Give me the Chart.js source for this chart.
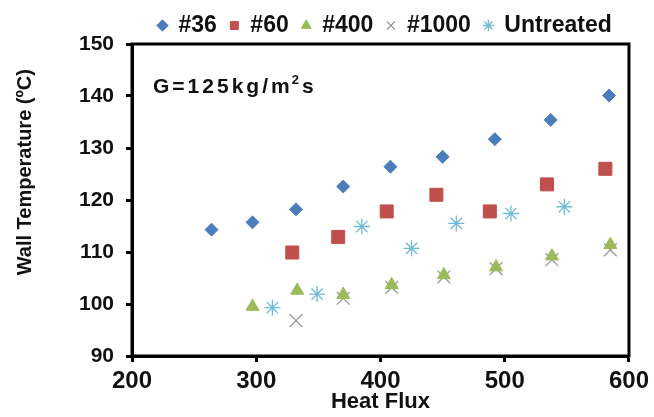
<!DOCTYPE html>
<html>
<head>
<meta charset="utf-8">
<script src="https://cdn.jsdelivr.net/npm/chart.js@4.4.1/dist/chart.umd.min.js"></script>
<style>
html, body { margin: 0; padding: 0; background: #fff; }
</style>
</head>
<body>
<canvas id="chart" width="654" height="417"></canvas>
<script>
// Heat flux (x) and wall temperature (y)
const flux36 = [264, 297, 332, 370, 408, 450, 492, 537, 584];
const temp36 = [114.3, 115.7, 118.2, 122.6, 126.4, 128.3, 131.7, 135.4, 140.1];

const flux60 = [329, 366, 405, 445, 488, 534, 581];
const temp60 = [109.9, 112.9, 117.8, 121.0, 117.8, 123.0, 126.0];

const flux400 = [297, 333, 370, 409, 451, 493, 538, 585];
const temp400 = [99.5, 102.6, 101.8, 103.7, 105.6, 107.1, 109.2, 111.4];

const flux1000 = [332, 370, 409, 451, 493, 538, 585];
const temp1000 = [96.8, 101.1, 103.2, 105.2, 106.8, 108.5, 110.4];

const fluxUntreated = [313, 349, 385, 425, 461, 505, 548];
const tempUntreated = [99.3, 101.9, 114.9, 110.7, 115.5, 117.4, 118.7];

const xTicks = [200, 300, 400, 500, 600];
const yTicks = [90, 100, 110, 120, 130, 140, 150];

function toPoints(xs, ys) {
    return xs.map((x, i) => ({ x: x, y: ys[i] }));
}

const FONT = "'Liberation Sans', Arial, sans-serif";
const LEGEND_PAD = 13;

// Frame around the plot area, legend position and the G= note
const framePlugin = {
    id: 'frame',
    afterLayout(chart) {
        const lg = chart.legend;
        const w = lg.right - lg.left;
        lg.left = 158 - LEGEND_PAD;
        lg.right = lg.left + w;
        lg.top += 3;
    },
    beforeDatasetsDraw(chart) {
        const { ctx, chartArea: a } = chart;
        ctx.save();
        ctx.strokeStyle = '#000';
        ctx.lineWidth = 3;
        ctx.strokeRect(a.left, a.top, a.right - a.left, a.bottom - a.top);

        // note inside the plot
        ctx.fillStyle = '#111';
        ctx.textBaseline = 'alphabetic';
        ctx.letterSpacing = '3px';
        ctx.font = 'bold 21px ' + FONT;
        let x = 153, y = 93;
        const main = 'G=125kg/m';
        ctx.fillText(main, x, y);
        x += ctx.measureText(main).width - 1;
        ctx.font = 'bold 13px ' + FONT;
        ctx.fillText('2', x, y - 9);
        x += ctx.measureText('2').width;
        ctx.font = 'bold 21px ' + FONT;
        ctx.fillText('s', x, y);
        ctx.restore();
    }
};

const ctx = document.getElementById('chart').getContext('2d');
new Chart(ctx, {
    type: 'scatter',
    data: {
        datasets: [
            {
                label: '#36',
                data: toPoints(flux36, temp36),
                pointStyle: 'rectRot',
                pointRadius: 6.5,
                backgroundColor: '#4a7ebb',
                borderColor: '#4a7ebb',
                borderWidth: 1
            },
            {
                label: '#60',
                data: toPoints(flux60, temp60),
                pointStyle: 'rect',
                pointRadius: 9.2,
                backgroundColor: '#c0504d',
                borderColor: '#c0504d',
                borderWidth: 1
            },
            {
                label: '#400',
                data: toPoints(flux400, temp400),
                pointStyle: 'triangle',
                pointRadius: 7.5,
                backgroundColor: '#9bbb59',
                borderColor: '#9bbb59',
                borderWidth: 1
            },
            {
                label: '#1000',
                data: toPoints(flux1000, temp1000),
                pointStyle: 'crossRot',
                pointRadius: 9,
                backgroundColor: '#9a9a9a',
                borderColor: '#9a9a9a',
                borderWidth: 1.3
            },
            {
                label: 'Untreated',
                data: toPoints(fluxUntreated, tempUntreated),
                pointStyle: 'star',
                pointRadius: 8,
                backgroundColor: '#6fbcd4',
                borderColor: '#6fbcd4',
                borderWidth: 1.3
            }
        ]
    },
    options: {
        responsive: false,
        animation: false,
        layout: { padding: { left: 0, right: 24, top: -2, bottom: 0 } },
        plugins: {
            legend: {
                position: 'top',
                align: 'start',
                labels: {
                    usePointStyle: true,
                    boxWidth: 9,
                    boxHeight: 8,
                    padding: LEGEND_PAD,
                    color: '#111',
                    font: { family: FONT, size: 23, weight: 'bold' }
                }
            },
            tooltip: { enabled: false }
        },
        scales: {
            x: {
                type: 'linear',
                min: 200,
                max: 600,
                afterBuildTicks: scale => { scale.ticks = xTicks.map(v => ({ value: v })); },
                afterFit: scale => { scale.height = 61; },
                border: { color: '#000', width: 3 },
                grid: {
                    drawOnChartArea: false,
                    drawTicks: true,
                    tickLength: 6,
                    tickWidth: 3,
                    tickColor: '#000'
                },
                ticks: {
                    color: '#111',
                    padding: 5,
                    font: { family: FONT, size: 24, weight: 'bold' }
                },
                title: {
                    display: true,
                    text: 'Heat Flux',
                    color: '#111',
                    padding: { top: 0, bottom: 2 },
                    font: { family: FONT, size: 22, weight: 'bold' }
                }
            },
            y: {
                type: 'linear',
                min: 90,
                max: 150,
                afterBuildTicks: scale => { scale.ticks = yTicks.map(v => ({ value: v })); },
                afterFit: scale => { scale.width = 132; },
                border: { color: '#000', width: 3 },
                grid: {
                    drawOnChartArea: false,
                    drawTicks: true,
                    tickLength: 6,
                    tickWidth: 3,
                    tickColor: '#000'
                },
                ticks: {
                    color: '#111',
                    padding: 12,
                    font: { family: FONT, size: 21, weight: 'bold' }
                },
                title: {
                    display: true,
                    // leading spaces lift the title above the axis centre, as in the original
                    text: '          Wall Temperature (ºC)',
                    color: '#111',
                    padding: { top: 13, bottom: 0 },
                    font: { family: FONT, size: 20, weight: 'bold' }
                }
            }
        }
    },
    plugins: [framePlugin]
});
</script>
</body>
</html>
